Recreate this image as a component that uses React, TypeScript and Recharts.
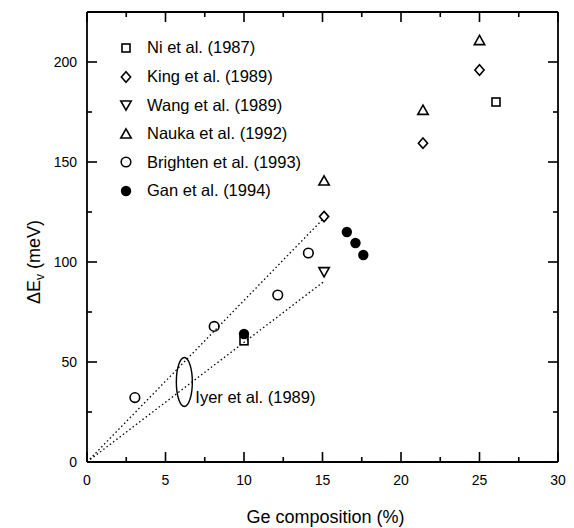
import React from 'react';
import { ComposedChart, Scatter, Line, XAxis, YAxis, Legend, Label } from 'recharts';

const FONT = '"Liberation Sans", Arial, Helvetica, sans-serif';

// Data (Ge composition %, valence band offset meV)
const niData = [{ x: 10, y: 60.6 }, { x: 26.05, y: 180 }];
const kingData = [{ x: 15.1, y: 122.7 }, { x: 21.4, y: 159.4 }, { x: 25.0, y: 196 }];
const wangData = [{ x: 15.1, y: 95.2 }];
const naukaData = [{ x: 15.1, y: 140.5 }, { x: 21.4, y: 175.8 }, { x: 25.0, y: 210.7 }];
const brightenData = [{ x: 3.05, y: 32.2 }, { x: 8.1, y: 67.8 }, { x: 12.15, y: 83.5 }, { x: 14.1, y: 104.5 }];
const ganData = [{ x: 10, y: 64 }, { x: 16.55, y: 115 }, { x: 17.1, y: 109.5 }, { x: 17.6, y: 103.5 }];
const iyerUpper = [{ x: 0, y: 0 }, { x: 15.1, y: 122 }];
const iyerLower = [{ x: 0, y: 0 }, { x: 15.1, y: 90.3 }];
const iyerMark = [{ x: 6.2, y: 40 }];
const iyerText = 'Iyer et al. (1989)';

const xTicks = [0, 2.5, 5, 7.5, 10, 12.5, 15, 17.5, 20, 22.5, 25, 27.5, 30];
const yTicks = [0, 25, 50, 75, 100, 125, 150, 175, 200];

const legendNames = [
  'Ni et al. (1987)',
  'King et al. (1989)',
  'Wang et al. (1989)',
  'Nauka et al. (1992)',
  'Brighten et al. (1993)',
  'Gan et al. (1994)',
];
const legendKinds = ['square', 'diamond', 'triDown', 'triUp', 'circle', 'dot'];

function Marker({ kind, cx, cy }: { kind: string; cx: number; cy: number }) {
  const s = { fill: 'none', stroke: '#000', strokeWidth: 1.6 };
  switch (kind) {
    case 'square':
      return <rect x={cx - 4} y={cy - 4} width={8} height={8} {...s} />;
    case 'diamond':
      return <path d={`M${cx},${cy - 5.2} L${cx + 4.6},${cy} L${cx},${cy + 5.2} L${cx - 4.6},${cy} Z`} {...s} />;
    case 'triUp':
      return <path d={`M${cx},${cy - 5.2} L${cx + 5.2},${cy + 4} L${cx - 5.2},${cy + 4} Z`} {...s} />;
    case 'triDown':
      return <path d={`M${cx},${cy + 5.2} L${cx + 5.2},${cy - 4} L${cx - 5.2},${cy - 4} Z`} {...s} />;
    case 'circle':
      return <circle cx={cx} cy={cy} r={4.8} {...s} />;
    default:
      return <circle cx={cx} cy={cy} r={5.2} fill="#000" stroke="none" />;
  }
}

const shapeOf = (kind: string) => (p: any) => <Marker kind={kind} cx={p.cx} cy={p.cy} />;

const IyerShape = (p: any) => (
  <g>
    <ellipse cx={p.cx} cy={p.cy} rx={8} ry={24.5} fill="none" stroke="#000" strokeWidth={1.4} />
    <text x={p.cx + 11} y={p.cy + 21} fontFamily={FONT} fontSize={16.5} fill="#000">{iyerText}</text>
  </g>
);

const TW = 1.6; // tick stroke width

const BottomTick = (p: any) => {
  const v = p.payload.value;
  const major = v % 5 === 0;
  const len = major ? 10 : 5;
  return (
    <g>
      <rect x={p.x - TW / 2} y={p.y - len} width={TW} height={len} fill="#000" />
      {major && (
        <text x={p.x} y={p.y + 23} textAnchor="middle" fontFamily={FONT} fontSize={14} fill="#000">{v}</text>
      )}
    </g>
  );
};
const TopTick = (p: any) => {
  const len = p.payload.value % 5 === 0 ? 10 : 5;
  return <rect x={p.x - TW / 2} y={p.y} width={TW} height={len} fill="#000" />;
};
const LeftTick = (p: any) => {
  const v = p.payload.value;
  const major = v % 50 === 0;
  const len = major ? 10 : 5;
  return (
    <g>
      <rect x={p.x} y={p.y - TW / 2} width={len} height={TW} fill="#000" />
      {major && (
        <text x={p.x - 10} y={p.y + 5} textAnchor="end" fontFamily={FONT} fontSize={14} fill="#000">{v}</text>
      )}
    </g>
  );
};
const RightTick = (p: any) => {
  const len = p.payload.value % 50 === 0 ? 10 : 5;
  return <rect x={p.x - len} y={p.y - TW / 2} width={len} height={TW} fill="#000" />;
};

const XTitle = (p: any) => {
  const vb = p.viewBox;
  return (
    <text x={vb.x + vb.width / 2 + 3} y={523} textAnchor="middle" fontFamily={FONT} fontSize={18} fill="#000">
      Ge composition (%)
    </text>
  );
};
const YTitle = () => {
  const cx = 40;
  const cy = 262;
  return (
    <text x={cx} y={cy} transform={`rotate(-90, ${cx}, ${cy})`} textAnchor="middle" fontFamily={FONT} fontSize={18} fill="#000">
      ΔE<tspan fontSize={12} dy={4}>v</tspan><tspan dy={-4}> (meV)</tspan>
    </text>
  );
};

const LegendContent = () => (
  <div style={{ fontFamily: FONT, fontSize: 16.5, color: '#000' }}>
    {legendNames.map((name, i) => (
      <div key={name} style={{ display: 'flex', alignItems: 'center', height: 28.6 }}>
        <svg width={16} height={16} style={{ display: 'block' }}>
          <Marker kind={legendKinds[i]} cx={8} cy={8} />
        </svg>
        <span style={{ marginLeft: 13, whiteSpace: 'nowrap' }}>{name}</span>
      </div>
    ))}
  </div>
);

export default function App() {
  return (
    <div style={{ position: 'absolute', left: 0, top: 0, background: '#fff' }}>
      <ComposedChart width={574} height={528} margin={{ top: 11, right: 15, bottom: 26, left: 27 }}>
        <XAxis xAxisId="b" dataKey="x" type="number" orientation="bottom" domain={[0, 30]} ticks={xTicks}
          interval={0} allowDataOverflow height={40} tickSize={0} tickMargin={0} tick={BottomTick}
          tickLine={false} axisLine={{ stroke: '#000', strokeWidth: 1.8 }}>
          <Label content={XTitle} />
        </XAxis>
        <XAxis xAxisId="t" dataKey="x" type="number" orientation="top" domain={[0, 30]} ticks={xTicks}
          interval={0} allowDataOverflow height={1} tickSize={0} tickMargin={0} tick={TopTick}
          tickLine={false} axisLine={{ stroke: '#000', strokeWidth: 2 }} />
        <YAxis yAxisId="l" type="number" orientation="left" domain={[0, 225]} ticks={yTicks}
          interval={0} allowDataOverflow width={60} tickSize={0} tickMargin={0} tick={LeftTick}
          tickLine={false} axisLine={{ stroke: '#000', strokeWidth: 1.8 }}>
          <Label content={YTitle} />
        </YAxis>
        <YAxis yAxisId="r" type="number" orientation="right" domain={[0, 225]} ticks={yTicks}
          interval={0} allowDataOverflow width={1} tickSize={0} tickMargin={0} tick={RightTick}
          tickLine={false} axisLine={{ stroke: '#000', strokeWidth: 1.8 }} />
        <Legend layout="vertical" align="center" verticalAlign="middle" content={LegendContent}
          wrapperStyle={{ left: 118, top: 33.7, width: 240, height: 172 }} />
        <Line xAxisId="b" yAxisId="l" data={iyerUpper} dataKey="y" type="linear" stroke="#000" strokeWidth={1.3}
          strokeDasharray="1.5 2.6" dot={false} activeDot={false} legendType="none" isAnimationActive={false} />
        <Line xAxisId="b" yAxisId="l" data={iyerLower} dataKey="y" type="linear" stroke="#000" strokeWidth={1.3}
          strokeDasharray="1.5 2.6" dot={false} activeDot={false} legendType="none" isAnimationActive={false} />
        <Scatter xAxisId="b" yAxisId="l" name={legendNames[0]} data={niData} dataKey="y" shape={shapeOf('square')} isAnimationActive={false} />
        <Scatter xAxisId="b" yAxisId="l" name={legendNames[1]} data={kingData} dataKey="y" shape={shapeOf('diamond')} isAnimationActive={false} />
        <Scatter xAxisId="b" yAxisId="l" name={legendNames[2]} data={wangData} dataKey="y" shape={shapeOf('triDown')} isAnimationActive={false} />
        <Scatter xAxisId="b" yAxisId="l" name={legendNames[3]} data={naukaData} dataKey="y" shape={shapeOf('triUp')} isAnimationActive={false} />
        <Scatter xAxisId="b" yAxisId="l" name={legendNames[4]} data={brightenData} dataKey="y" shape={shapeOf('circle')} isAnimationActive={false} />
        <Scatter xAxisId="b" yAxisId="l" name={legendNames[5]} data={ganData} dataKey="y" shape={shapeOf('dot')} isAnimationActive={false} />
        <Scatter xAxisId="b" yAxisId="l" name="iyer" data={iyerMark} dataKey="y" shape={IyerShape} legendType="none" isAnimationActive={false} />
      </ComposedChart>
    </div>
  );
}
